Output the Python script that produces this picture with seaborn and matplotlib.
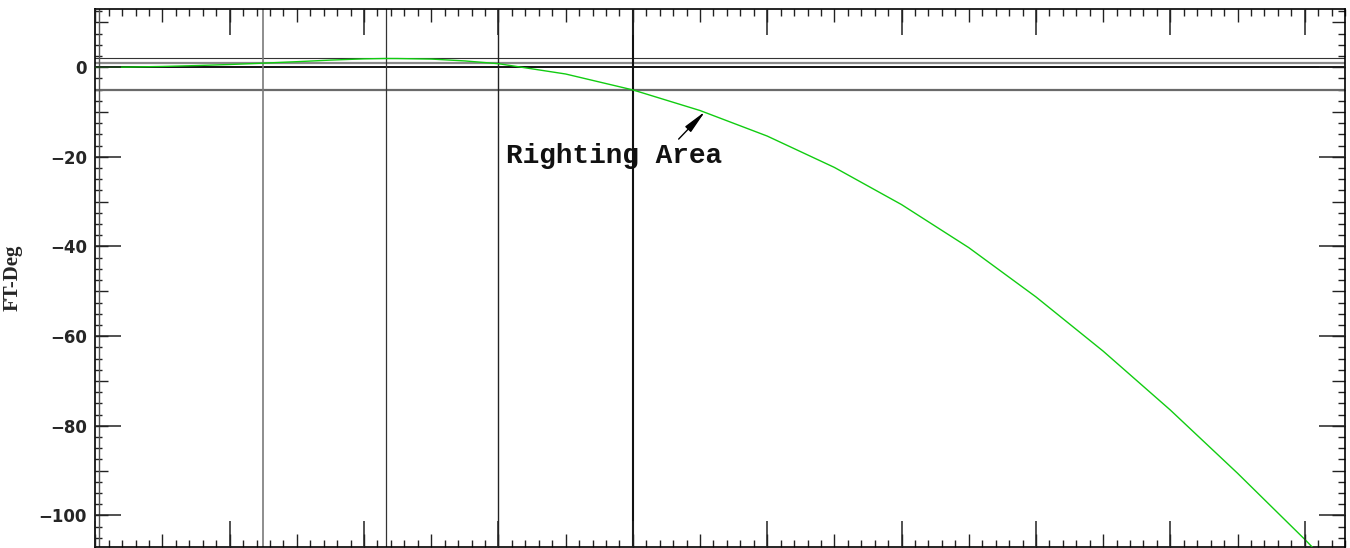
import numpy as np
import pandas as pd
import matplotlib
matplotlib.use("Agg")
import matplotlib.pyplot as plt
from matplotlib.ticker import MultipleLocator, NullFormatter
import seaborn as sns

# Heel angle (deg) and righting-arm area (ft-deg)
heel_angle = [0, 2.5, 5, 7.5, 10, 12.5, 15, 17.5, 20, 21.6, 22.5, 25, 27.5,
              30, 35, 40, 45, 50, 55, 60, 65, 70, 75, 80, 85, 90, 90.6]
area = [0.0, 0.05, 0.18, 0.38, 0.62, 0.92, 1.25, 1.6, 1.88, 1.96, 1.95,
        1.83, 1.42, 0.8, -1.5, -5.05, -9.65, -15.35, -22.35, -30.65,
        -40.25, -51.25, -63.35, -76.5, -90.6, -105.35, -107.2]

# Reference levels and marker angles
h_levels = [2.0, 1.0, 0.0, -5.0]
v_angles = [0.3, 12.5, 21.6, 30.0, 40.0]

y_labels_at = [0, -20, -40, -60, -80, -100]
annotation = "Righting Area"
y_title = "FT-Deg"

df = pd.DataFrame({"angle": heel_angle, "area": area})

sns.set_theme(style="white")
plt.rcParams["font.family"] = ["DejaVu Sans"]

fig = plt.figure(figsize=(13.5, 5.48), dpi=100)
pos = [0.0706, 0.0024, 0.9257, 0.9803]
ax = fig.add_axes(pos)

XLIM = (0, 93)
YLIM = (-107, 12.9)

# reference lines
h_styles = [("#333333", 0.8), ("#8a8a8a", 1.6), ("#000000", 1.3), ("#6a6a6a", 1.6)]
for lvl, (c, w) in zip(h_levels, h_styles):
    ax.axhline(lvl, color=c, lw=w, zorder=1)
v_styles = [("#555555", 1.0), ("#7a7a7a", 1.2), ("#333333", 0.9),
            ("#222222", 1.0), ("#111111", 1.5)]
for a, (c, w) in zip(v_angles, v_styles):
    ax.axvline(a, color=c, lw=w, zorder=1)

sns.lineplot(data=df, x="angle", y="area", ax=ax, color="#11cc11",
             lw=1.0, zorder=3, estimator=None, sort=False)

ax.set_xlim(*XLIM)
ax.set_ylim(*YLIM)
ax.set_xlabel("")
ax.set_ylabel("")

# medium and minor ticks
ax.xaxis.set_major_locator(MultipleLocator(5))
ax.xaxis.set_minor_locator(MultipleLocator(1))
ax.yaxis.set_major_locator(MultipleLocator(10))
ax.yaxis.set_minor_locator(MultipleLocator(2.5))
ax.xaxis.set_major_formatter(NullFormatter())
ax.yaxis.set_major_formatter(NullFormatter())
ax.tick_params(which="major", direction="in", length=9.5, width=1,
               color="#222222", top=True, bottom=True, left=True, right=True)
ax.tick_params(which="minor", direction="in", length=5, width=1,
               color="#222222", top=True, bottom=True, left=True, right=True)
for s in ax.spines.values():
    s.set_color("black")
    s.set_linewidth(1.2)

# long ticks and labels on an overlay
ax2 = fig.add_axes(pos, frameon=False)
ax2.patch.set_alpha(0)
ax2.set_xlim(*XLIM)
ax2.set_ylim(*YLIM)
ax2.set_xticks(np.arange(0, 94, 10))
ax2.set_xticklabels([])
ax2.set_yticks(y_labels_at)
ax2.set_yticklabels([f"\u2212{abs(v)}" if v < 0 else str(v) for v in y_labels_at],
                    fontsize=12, fontweight="bold", family="DejaVu Sans")
ax2.tick_params(which="major", direction="in", length=19, width=1.1,
                color="#222222", top=True, bottom=True, left=True, right=True,
                pad=6)
ax2.set_ylabel(y_title, fontsize=15, fontweight="bold",
               family="Liberation Serif")
ax2.yaxis.set_label_coords(-0.0585, 0.5)

# label and pointer
ax.text(38.6, -19.75, annotation, ha="center", va="center", fontsize=20,
        family="Liberation Mono", fontweight="bold", color="#111111", zorder=5)
ax.annotate("", xy=(45.38, -9.87), xytext=(43.41, -16.03),
            arrowprops=dict(arrowstyle="-|>,head_length=0.9,head_width=0.15",
                            color="black", lw=1, shrinkA=0, shrinkB=0,
                            mutation_scale=16), zorder=5)

fig.savefig("out.png", dpi=100)
